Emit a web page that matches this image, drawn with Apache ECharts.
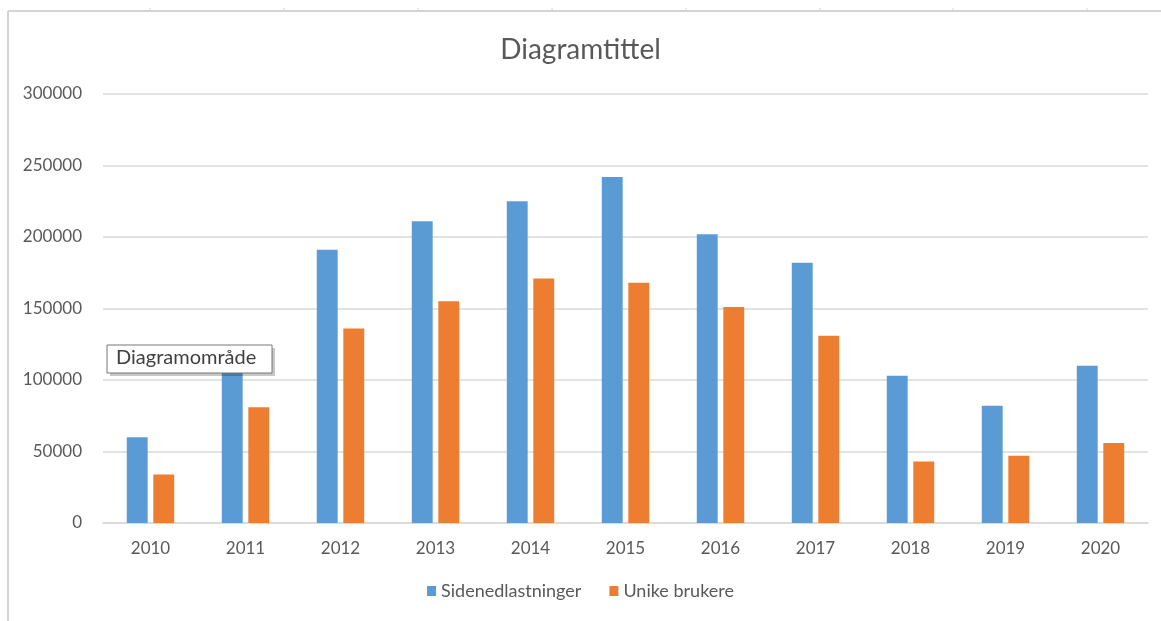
<!DOCTYPE html>
<html>
<head>
<meta charset="utf-8">
<title>Diagramtittel</title>
<script src="https://cdn.jsdelivr.net/npm/echarts@6/dist/echarts.min.js"></script>
<style>
    html, body { margin: 0; padding: 0; background: #fff; }
    #chart { width: 1161px; height: 621px; }
</style>
</head>
<body>
<div id="chart"></div>
<script>
// årstall på x-aksen
var years = ['2010', '2011', '2012', '2013', '2014', '2015', '2016', '2017', '2018', '2019', '2020'];
var seriesNames = ['Sidenedlastninger', 'Unike brukere'];
// verdier lest av bildet
var sidenedlastninger = [60000, 118000, 191000, 211000, 225000, 242000, 202000, 182000, 103000, 82000, 110000];
var unikeBrukere = [34000, 81000, 136000, 155000, 171000, 168000, 151000, 131000, 43000, 47000, 56000];
// y-akse
var yMin = 0;
var yMax = 300000;
var yStep = 50000;

var textColor = '#595959';
var font = 'Lato';

var chart = echarts.init(document.getElementById('chart'));

// små kolonnemerker i regnearkrammen
var sheetTicks = [150, 284, 418, 552, 686, 820, 953, 1087].map(function (x) {
    return { type: 'line', shape: { x1: x, y1: 8, x2: x, y2: 11 }, style: { stroke: '#d4d4d4', lineWidth: 1 } };
});

var option = {
    backgroundColor: '#fff',
    textStyle: { fontFamily: font },
    title: {
        text: 'Diagramtittel',
        left: 'center',
        top: 31,
        textStyle: { color: textColor, fontSize: 28, fontWeight: 'normal', fontFamily: font }
    },
    legend: {
        data: seriesNames,
        left: 'center',
        bottom: 16,
        icon: 'rect',
        itemWidth: 9,
        itemHeight: 10,
        itemGap: 28,
        textStyle: { color: textColor, fontSize: 18, fontFamily: font }
    },
    grid: {
        left: 103,
        right: 13,
        top: 94,
        bottom: 98
    },
    xAxis: {
        type: 'category',
        data: years,
        axisTick: { show: false },
        axisLine: { lineStyle: { color: '#d9d9d9', width: 1.5 } },
        axisLabel: { color: textColor, fontSize: 17, margin: 17, fontFamily: font }
    },
    yAxis: {
        type: 'value',
        min: yMin,
        max: yMax,
        interval: yStep,
        axisLine: { show: false },
        axisTick: { show: false },
        splitLine: { lineStyle: { color: '#d9d9d9', width: 1.5 } },
        axisLabel: {
            color: textColor, fontSize: 17, margin: 21, fontFamily: font,
            formatter: function (v) { return String(v); }
        }
    },
    series: [
        {
            name: seriesNames[0],
            type: 'bar',
            data: sidenedlastninger,
            barWidth: '22%',
            barGap: '27%',
            itemStyle: { color: '#5b9bd5' }
        },
        {
            name: seriesNames[1],
            type: 'bar',
            data: unikeBrukere,
            barWidth: '22%',
            barGap: '27%',
            itemStyle: { color: '#ed7d31' }
        }
    ],
    graphic: [
        // ramme fra regnearket
        { type: 'line', shape: { x1: 8, y1: 11, x2: 1161, y2: 11 }, style: { stroke: '#d4d4d4', lineWidth: 2 } },
        { type: 'line', shape: { x1: 8, y1: 11, x2: 8, y2: 621 }, style: { stroke: '#d4d4d4', lineWidth: 2 } }
    ].concat(sheetTicks).concat([
        // verktøytips "Diagramområde"
        { type: 'rect', zlevel: 1, z: 100, shape: { x: 110, y: 348, width: 165, height: 28 }, style: { fill: 'rgba(0,0,0,0.22)' } },
        { type: 'rect', zlevel: 1, z: 101, shape: { x: 107, y: 345, width: 165, height: 28 }, style: { fill: '#fff', stroke: '#767676', lineWidth: 1 } },
        { type: 'text', zlevel: 1, z: 102, x: 116, y: 348, style: { text: 'Diagramområde', fill: '#404040', fontSize: 20, fontFamily: font } }
    ])
};

chart.setOption(option);
</script>
</body>
</html>
